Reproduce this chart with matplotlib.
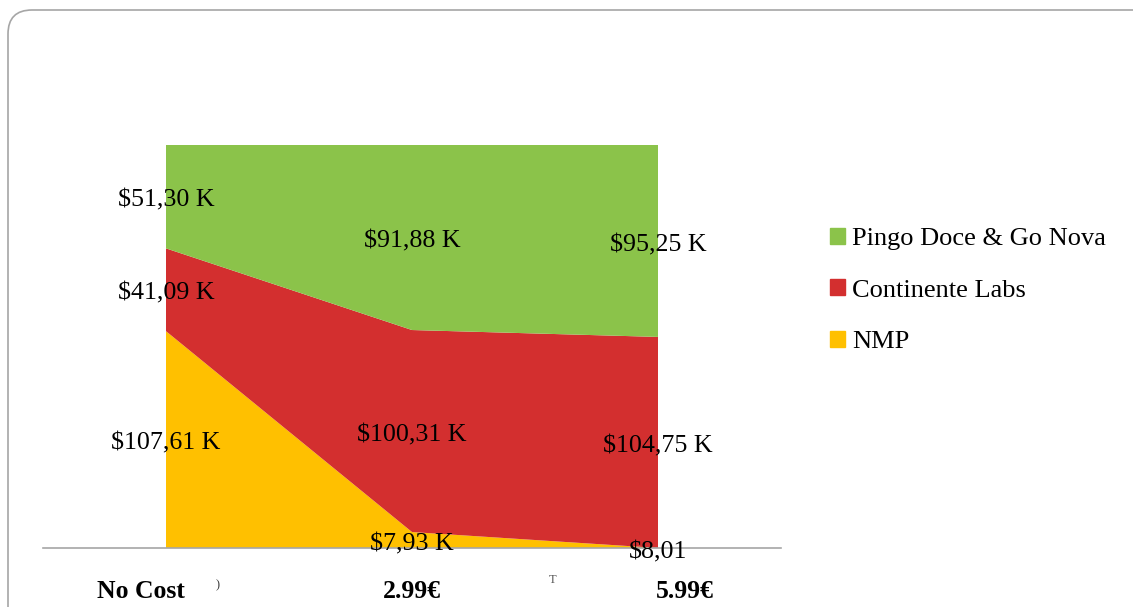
import matplotlib
matplotlib.use("Agg")
import matplotlib.pyplot as plt
import numpy as np
from matplotlib.patches import FancyBboxPatch
from matplotlib.transforms import IdentityTransform

categories = ["No Cost", "2.99€", "5.99€"]
nmp = [107.61, 7.93, 0.00801]          # $K
continente = [41.09, 100.31, 104.75]   # $K
pingo = [51.30, 91.88, 95.25]          # $K
series_names = ["NMP", "Continente Labs", "Pingo Doce & Go Nova"]
colors = ["#FFC000", "#D32F2F", "#8BC34A"]

plt.rcParams['font.family'] = ['Liberation Serif', 'DejaVu Serif']

W, H = 1133, 607
fig = plt.figure(figsize=(W / 100, H / 100), dpi=100)
fig.patch.set_facecolor("white")

# rounded frame
frame = FancyBboxPatch((8, -60), 1200, 607 - 10 + 60, boxstyle="round,pad=0,rounding_size=24",
                       transform=IdentityTransform(), facecolor="none",
                       edgecolor="#A6A6A6", linewidth=1.2)
fig.patches.append(frame)

ax = fig.add_axes([43 / W, (H - 548) / H, 738 / W, 403 / H])
x = np.arange(len(categories))
data = np.array([nmp, continente, pingo])
totals = data.sum(axis=0)
frac = data / totals

polys = ax.stackplot(x, frac, colors=colors, linewidth=0)
ax.set_xlim(-0.5, 2.5)
ax.set_ylim(0, 1)
for s in ["left", "right", "top"]:
    ax.spines[s].set_visible(False)
ax.spines["bottom"].set_color("#A6A6A6")
ax.spines["bottom"].set_linewidth(1.2)
ax.spines["bottom"].set_zorder(5)
ax.set_yticks([])
ax.set_xticks([])


def fmt(v):
    if v < 1:
        return "$" + f"{v * 1000:.2f}".replace(".", ",")
    return "$" + f"{v:.2f}".replace(".", ",") + " K"


cum = np.cumsum(frac, axis=0)
for si in range(data.shape[0]):
    for ci in range(data.shape[1]):
        mid = cum[si, ci] - frac[si, ci] / 2
        ax.annotate(fmt(data[si, ci]), xy=(x[ci], mid), xytext=(0, -4),
                    textcoords="offset pixels", ha="center", va="center",
                    fontsize=18.7, color="black", zorder=6, annotation_clip=False)

label_dx = [-25, 0, 27]
for ci, cat in enumerate(categories):
    ax.annotate(cat, xy=(x[ci], 0), xytext=(label_dx[ci], -43), textcoords="offset pixels",
                ha="center", va="center", fontsize=18.5, fontweight="bold",
                annotation_clip=False)

# small stray glyph artifacts from the original
fig.text(218 / W, 1 - 585 / H, ")", fontsize=9, color="#333333", ha="center", va="center")
fig.text(553 / W, 1 - 580 / H, "T", fontsize=9, color="#555555", ha="center", va="center")

handles = [plt.Rectangle((0, 0), 1, 1, color=c) for c in colors][::-1]
labels = series_names[::-1]
leg = fig.legend(handles, labels, loc="upper left", bbox_to_anchor=(830 / W, 1 - 228 / H),
                 frameon=False, fontsize=19, handlelength=0.55, handleheight=0.55,
                 handletextpad=0.28, labelspacing=1.1, borderpad=0, borderaxespad=0)

fig.savefig("out.png", dpi=100, facecolor="white")
